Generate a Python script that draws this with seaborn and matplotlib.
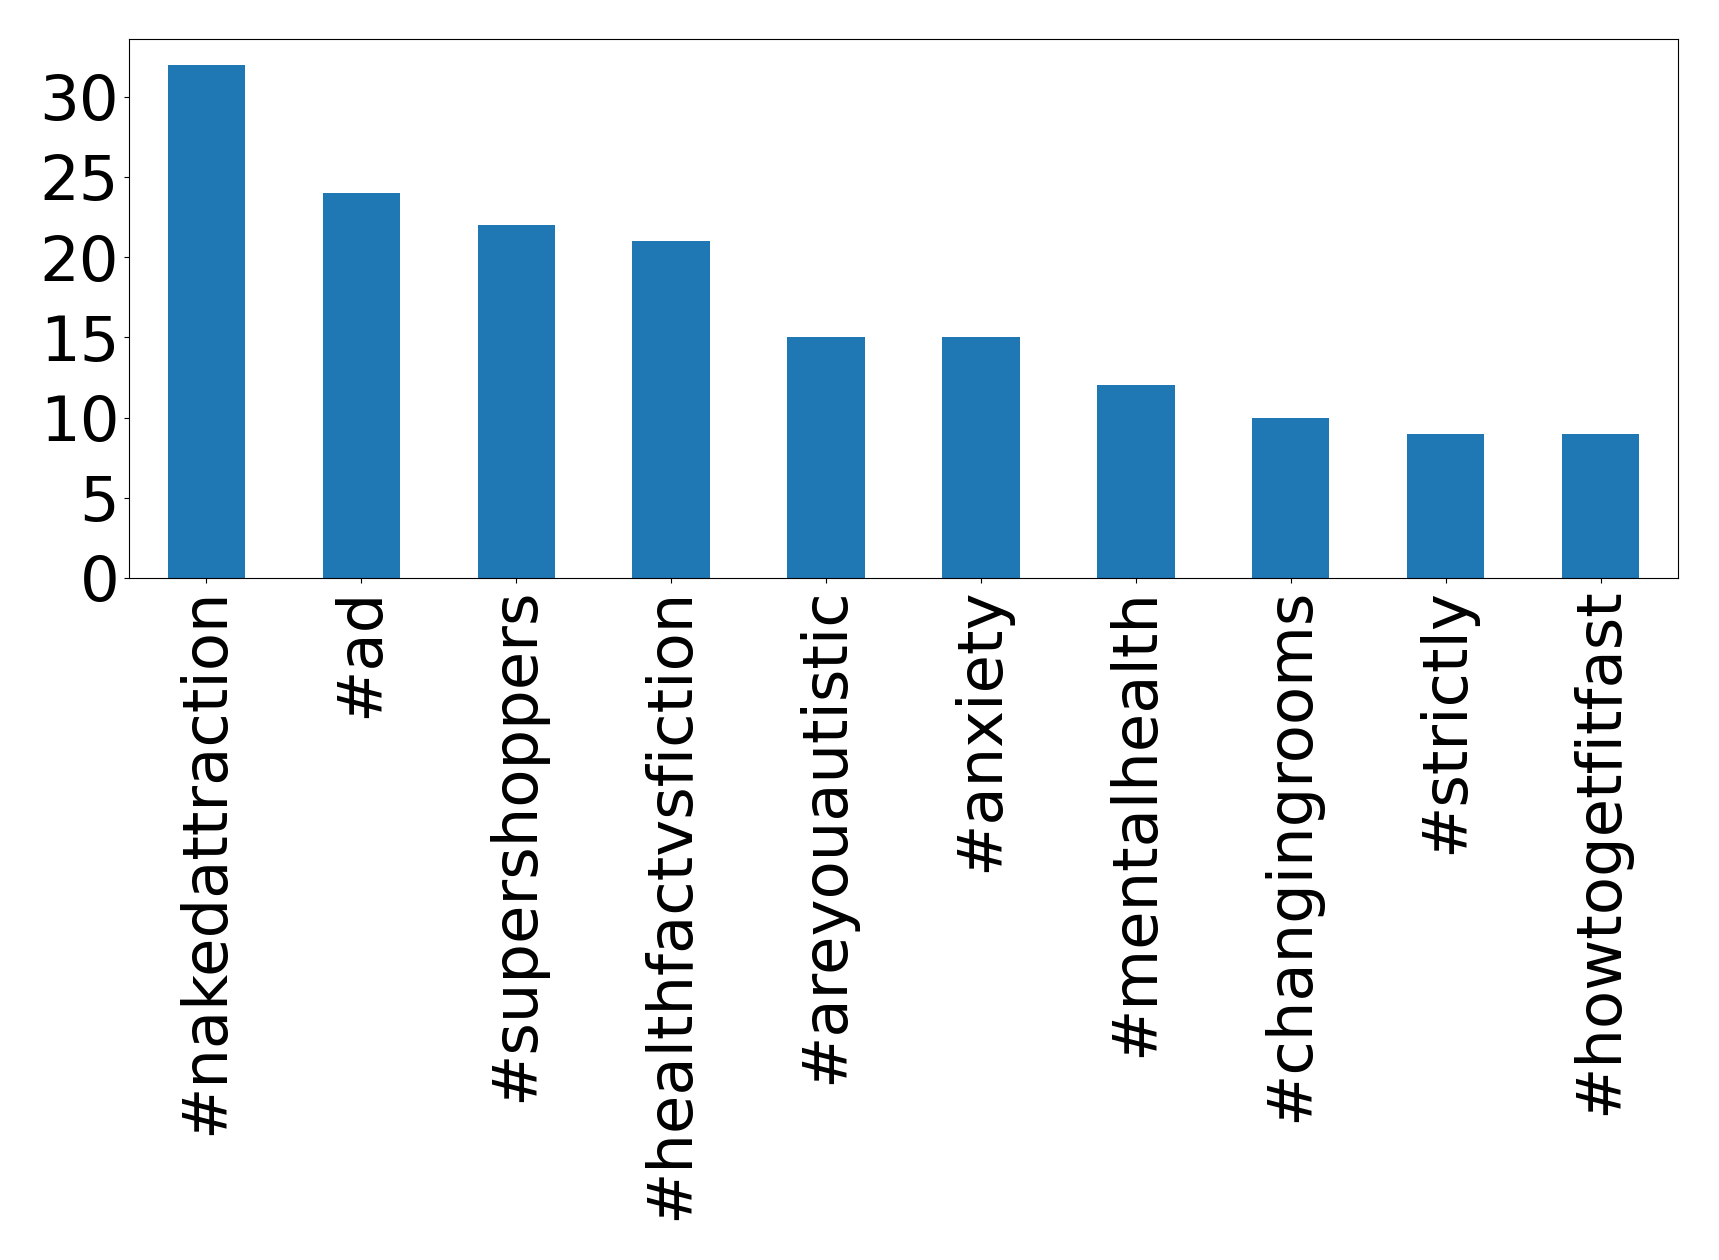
import matplotlib
matplotlib.use("Agg")
import matplotlib.pyplot as plt
from matplotlib.ticker import MultipleLocator
import seaborn as sns
import pandas as pd

# hashtag counts
hashtags = ["#nakedattraction", "#ad", "#supershoppers", "#healthfactvsfiction",
            "#areyouautistic", "#anxiety", "#mentalhealth", "#changingrooms",
            "#strictly", "#howtogetfitfast"]
counts = [32, 24, 22, 21, 15, 15, 12, 10, 9, 9]

df = pd.DataFrame({"hashtag": hashtags, "count": counts})

fig, ax = plt.subplots(figsize=(17.19, 12.6), dpi=100)
fig.subplots_adjust(left=129/1719, right=1678/1719, top=1 - 39/1260, bottom=1 - 578/1260)

sns.barplot(data=df, x="hashtag", y="count", color="#1f77b4", saturation=1,
            width=0.5, ax=ax)

ax.set_xlim(-0.5, len(hashtags) - 0.5)
ax.set_ylim(0, max(counts) * 1.05)
ax.yaxis.set_major_locator(MultipleLocator(5))
ax.set_xlabel("")
ax.set_ylabel("")
ax.tick_params(axis="both", labelsize=45)
plt.setp(ax.get_xticklabels(), rotation=90)

plt.savefig("out.png", dpi=100)
plt.close()
